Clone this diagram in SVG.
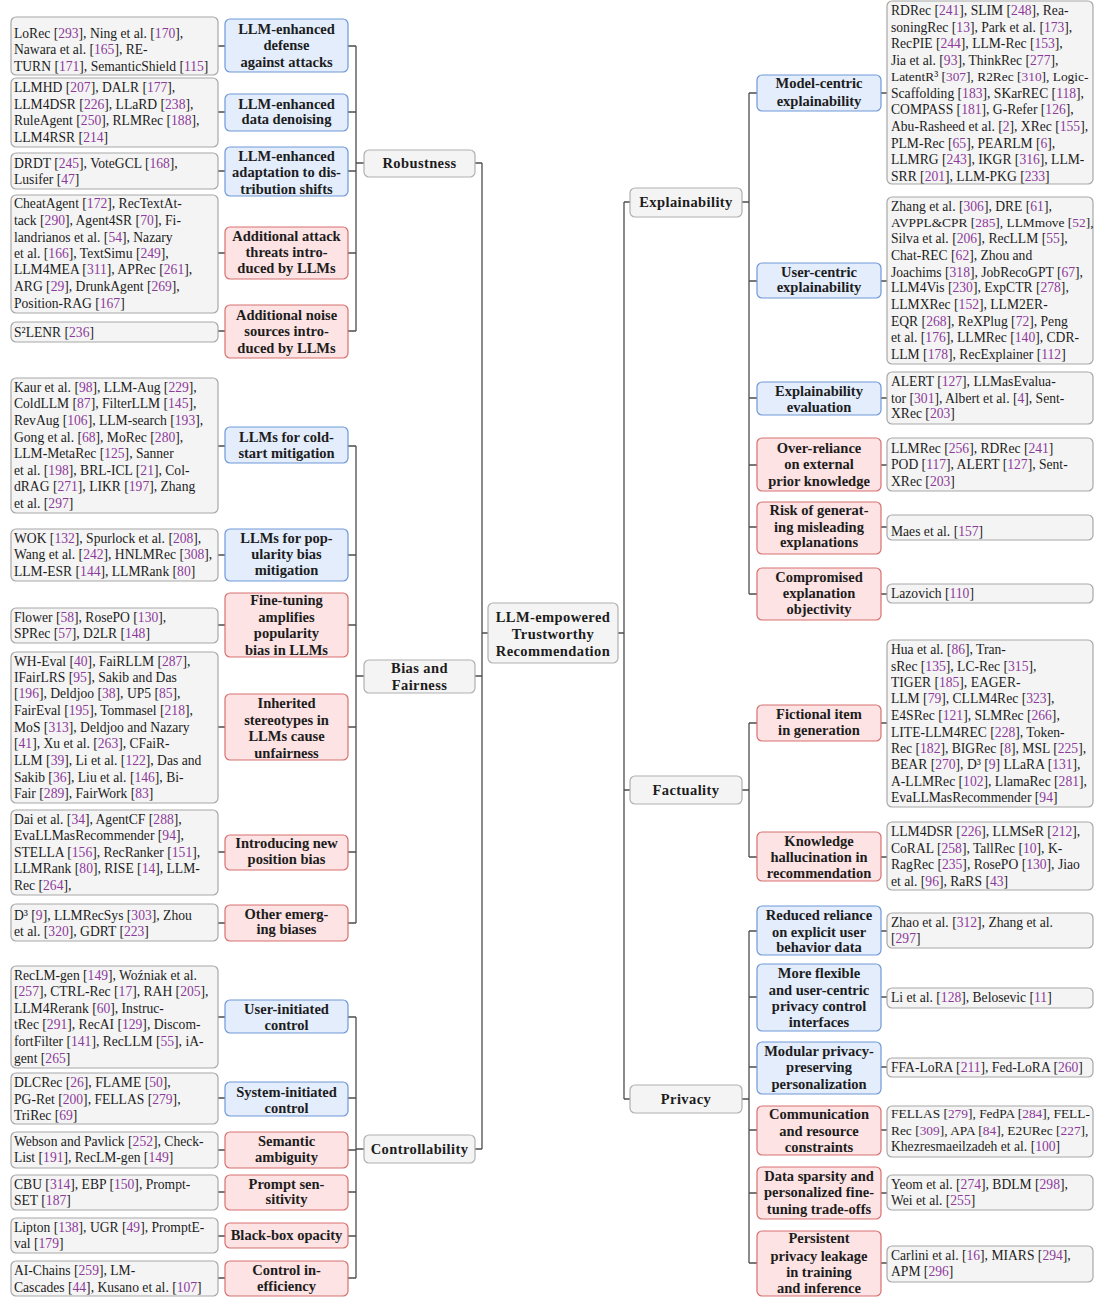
<svg xmlns="http://www.w3.org/2000/svg" width="1094" height="1297" viewBox="0 0 1094 1297">
<style>
.leaf rect{fill:#f4f4f4;stroke:#a8a8a8;stroke-width:1.2}
.blue rect{fill:#e3edfc;stroke:#7098d8;stroke-width:1.2}
.red rect{fill:#fde3e3;stroke:#d87070;stroke-width:1.2}
.top rect{fill:#f4f4f4;stroke:#b0b0b0;stroke-width:1.2}
.t{font-family:"Liberation Serif","DejaVu Serif",serif;font-size:13.6px;fill:#1c1c1c}
.s{font-size:13.4px}
.b{font-family:"Liberation Serif","DejaVu Serif",serif;font-size:14.5px;font-weight:bold;fill:#1c1c1c;text-anchor:middle}
.h{letter-spacing:0.4px}
.c{fill:#8c3a9a}
#connectors path{stroke:#4d4d4d;stroke-width:1.3;fill:none}
</style>
<rect width="1094" height="1297" fill="#ffffff"/>
<g id="connectors">
<path d="M218 46H225M348 46H356M218 112H225M348 112H356M218 171H225M348 171H356M218 253H225M348 253H356M218 331H225M348 331H356"/>
<path d="M356 46V331M356 163H364"/>
<path d="M218 446H225M348 446H356M218 555H225M348 555H356M218 625H225M348 625H356M218 727H225M348 727H356M218 852H225M348 852H356M218 923H225M348 923H356"/>
<path d="M356 446V923M356 676H364"/>
<path d="M218 1017H225M348 1017H356M218 1098H225M348 1098H356M218 1150H225M348 1150H356M218 1192H225M348 1192H356M218 1236H225M348 1236H356M218 1278H225M348 1278H356"/>
<path d="M356 1017V1278M356 1149H364"/>
<path d="M475 163H482M475 676H482M475 1149H482M482 163V1149M482 633H488"/>
<path d="M618 633H624M624 202V1099M624 202H630M624 790H630M624 1099H630"/>
<path d="M742 202H749M749 93V594M749 93H757M749 281H757M749 398H757M749 465H757M749 527H757M749 594H757"/>
<path d="M881 93H887M881 281H887M881 398H887M881 465H887M881 527H887M881 594H887"/>
<path d="M742 790H749M749 723V857M749 723H757M749 857H757M881 723H887M881 857H887"/>
<path d="M742 1099H749M749 931V1263M749 931H757M749 997H757M749 1067H757M749 1130H757M749 1193H757M749 1263H757"/>
<path d="M881 931H887M881 997H887M881 1067H887M881 1130H887M881 1193H887M881 1263H887"/>
</g>

<g id="root" class="top"><rect x="488" y="603" width="130" height="60" rx="5"/>
<text class="b h"><tspan x="553" y="622">LLM-empowered</tspan><tspan x="553" y="639">Trustworthy</tspan><tspan x="553" y="656">Recommendation</tspan></text></g>

<g id="robustness" class="top"><rect x="364" y="150" width="111" height="27" rx="5"/><text class="b h" x="419.5" y="168">Robustness</text></g>
<g id="bias" class="top"><rect x="364" y="660" width="111" height="33" rx="5"/><text class="b h"><tspan x="419.5" y="673">Bias and</tspan><tspan x="419.5" y="690">Fairness</tspan></text></g>
<g id="controllability" class="top"><rect x="364" y="1135" width="111" height="28" rx="5"/><text class="b h" x="419.5" y="1154">Controllability</text></g>
<g id="explainability" class="top"><rect x="630" y="188" width="112" height="29" rx="5"/><text class="b h" x="686" y="207">Explainability</text></g>
<g id="factuality" class="top"><rect x="630" y="776" width="112" height="28" rx="5"/><text class="b h" x="686" y="795">Factuality</text></g>
<g id="privacy" class="top"><rect x="630" y="1085" width="112" height="28" rx="5"/><text class="b h" x="686" y="1104">Privacy</text></g>

<g id="cat-defense" class="blue"><rect x="225" y="19" width="123" height="53" rx="5"/><text class="b"><tspan x="286.5" y="34">LLM-enhanced</tspan><tspan x="286.5" y="50">defense</tspan><tspan x="286.5" y="67">against attacks</tspan></text></g>
<g id="cat-denoise" class="blue"><rect x="225" y="94" width="123" height="37" rx="5"/><text class="b"><tspan x="286.5" y="109">LLM-enhanced</tspan><tspan x="286.5" y="124">data denoising</tspan></text></g>
<g id="cat-shift" class="blue"><rect x="225" y="147" width="123" height="49" rx="5"/><text class="b"><tspan x="286.5" y="161">LLM-enhanced</tspan><tspan x="286.5" y="177">adaptation to dis-</tspan><tspan x="286.5" y="194">tribution shifts</tspan></text></g>
<g id="cat-attack" class="red"><rect x="225" y="227" width="123" height="52" rx="5"/><text class="b"><tspan x="286.5" y="241">Additional attack</tspan><tspan x="286.5" y="257">threats intro-</tspan><tspan x="286.5" y="273">duced by LLMs</tspan></text></g>
<g id="cat-noise" class="red"><rect x="225" y="305" width="123" height="53" rx="5"/><text class="b"><tspan x="286.5" y="320">Additional noise</tspan><tspan x="286.5" y="336">sources intro-</tspan><tspan x="286.5" y="353">duced by LLMs</tspan></text></g>
<g id="cat-cold" class="blue"><rect x="225" y="427" width="123" height="36" rx="5"/><text class="b"><tspan x="286.5" y="442">LLMs for cold-</tspan><tspan x="286.5" y="458">start mitigation</tspan></text></g>
<g id="cat-pop" class="blue"><rect x="225" y="529" width="123" height="52" rx="5"/><text class="b"><tspan x="286.5" y="543">LLMs for pop-</tspan><tspan x="286.5" y="559">ularity bias</tspan><tspan x="286.5" y="575">mitigation</tspan></text></g>
<g id="cat-finetune" class="red"><rect x="225" y="593" width="123" height="64" rx="5"/><text class="b"><tspan x="286.5" y="605">Fine-tuning</tspan><tspan x="286.5" y="622">amplifies</tspan><tspan x="286.5" y="638">popularity</tspan><tspan x="286.5" y="655">bias in LLMs</tspan></text></g>
<g id="cat-stereo" class="red"><rect x="225" y="694" width="123" height="66" rx="5"/><text class="b"><tspan x="286.5" y="708">Inherited</tspan><tspan x="286.5" y="725">stereotypes in</tspan><tspan x="286.5" y="741">LLMs cause</tspan><tspan x="286.5" y="758">unfairness</tspan></text></g>
<g id="cat-position" class="red"><rect x="225" y="835" width="123" height="35" rx="5"/><text class="b"><tspan x="286.5" y="848">Introducing new</tspan><tspan x="286.5" y="864">position bias</tspan></text></g>
<g id="cat-other" class="red"><rect x="225" y="905" width="123" height="36" rx="5"/><text class="b"><tspan x="286.5" y="919">Other emerg-</tspan><tspan x="286.5" y="934">ing biases</tspan></text></g>
<g id="cat-user" class="blue"><rect x="225" y="1000" width="123" height="33" rx="5"/><text class="b"><tspan x="286.5" y="1014">User-initiated</tspan><tspan x="286.5" y="1030">control</tspan></text></g>
<g id="cat-system" class="blue"><rect x="225" y="1082" width="123" height="34" rx="5"/><text class="b"><tspan x="286.5" y="1097">System-initiated</tspan><tspan x="286.5" y="1113">control</tspan></text></g>
<g id="cat-semantic" class="red"><rect x="225" y="1132" width="123" height="36" rx="5"/><text class="b"><tspan x="286.5" y="1146">Semantic</tspan><tspan x="286.5" y="1162">ambiguity</tspan></text></g>
<g id="cat-prompt" class="red"><rect x="225" y="1175" width="123" height="35" rx="5"/><text class="b"><tspan x="286.5" y="1189">Prompt sen-</tspan><tspan x="286.5" y="1204">sitivity</tspan></text></g>
<g id="cat-blackbox" class="red"><rect x="225" y="1223" width="123" height="25" rx="5"/><text class="b" x="286.5" y="1240">Black-box opacity</text></g>
<g id="cat-ineff" class="red"><rect x="225" y="1261" width="123" height="35" rx="5"/><text class="b"><tspan x="286.5" y="1275">Control in-</tspan><tspan x="286.5" y="1291">efficiency</tspan></text></g>

<g id="leaf-defense" class="leaf"><rect x="11" y="17" width="207" height="58" rx="5"/><text class="t"><tspan x="14" y="38">LoRec [<tspan class="c">293</tspan>], Ning et al. [<tspan class="c">170</tspan>],</tspan><tspan x="14" y="54">Nawara et al. [<tspan class="c">165</tspan>], RE-</tspan><tspan x="14" y="71">TURN [<tspan class="c">171</tspan>], SemanticShield [<tspan class="c">115</tspan>]</tspan></text></g>
<g id="leaf-denoise" class="leaf"><rect x="11" y="78" width="207" height="69" rx="5"/><text class="t"><tspan x="14" y="92">LLMHD [<tspan class="c">207</tspan>], DALR [<tspan class="c">177</tspan>],</tspan><tspan x="14" y="109">LLM4DSR [<tspan class="c">226</tspan>], LLaRD [<tspan class="c">238</tspan>],</tspan><tspan x="14" y="125">RuleAgent [<tspan class="c">250</tspan>], RLMRec [<tspan class="c">188</tspan>],</tspan><tspan x="14" y="142">LLM4RSR [<tspan class="c">214</tspan>]</tspan></text></g>
<g id="leaf-shift" class="leaf"><rect x="11" y="153" width="207" height="36" rx="5"/><text class="t"><tspan x="14" y="168">DRDT [<tspan class="c">245</tspan>], VoteGCL [<tspan class="c">168</tspan>],</tspan><tspan x="14" y="184">Lusifer [<tspan class="c">47</tspan>]</tspan></text></g>
<g id="leaf-attack" class="leaf"><rect x="11" y="195" width="207" height="118" rx="5"/><text class="t"><tspan x="14" y="208">CheatAgent [<tspan class="c">172</tspan>], RecTextAt-</tspan><tspan x="14" y="225">tack [<tspan class="c">290</tspan>], Agent4SR [<tspan class="c">70</tspan>], Fi-</tspan><tspan x="14" y="242">landrianos et al. [<tspan class="c">54</tspan>], Nazary</tspan><tspan x="14" y="258">et al. [<tspan class="c">166</tspan>], TextSimu [<tspan class="c">249</tspan>],</tspan><tspan x="14" y="274">LLM4MEA [<tspan class="c">311</tspan>], APRec [<tspan class="c">261</tspan>],</tspan><tspan x="14" y="291">ARG [<tspan class="c">29</tspan>], DrunkAgent [<tspan class="c">269</tspan>],</tspan><tspan x="14" y="308">Position-RAG [<tspan class="c">167</tspan>]</tspan></text></g>
<g id="leaf-noise" class="leaf"><rect x="11" y="322" width="207" height="20" rx="5"/><text class="t" x="14" y="337">S²LENR [<tspan class="c">236</tspan>]</text></g>
<g id="leaf-cold" class="leaf"><rect x="11" y="378" width="207" height="135" rx="5"/><text class="t"><tspan x="14" y="392">Kaur et al. [<tspan class="c">98</tspan>], LLM-Aug [<tspan class="c">229</tspan>],</tspan><tspan x="14" y="408">ColdLLM [<tspan class="c">87</tspan>], FilterLLM [<tspan class="c">145</tspan>],</tspan><tspan x="14" y="425">RevAug [<tspan class="c">106</tspan>], LLM-search [<tspan class="c">193</tspan>],</tspan><tspan x="14" y="442">Gong et al. [<tspan class="c">68</tspan>], MoRec [<tspan class="c">280</tspan>],</tspan><tspan x="14" y="458">LLM-MetaRec [<tspan class="c">125</tspan>], Sanner</tspan><tspan x="14" y="475">et al. [<tspan class="c">198</tspan>], BRL-ICL [<tspan class="c">21</tspan>], Col-</tspan><tspan x="14" y="491">dRAG [<tspan class="c">271</tspan>], LIKR [<tspan class="c">197</tspan>], Zhang</tspan><tspan x="14" y="508">et al. [<tspan class="c">297</tspan>]</tspan></text></g>
<g id="leaf-pop" class="leaf"><rect x="11" y="529" width="207" height="52" rx="5"/><text class="t"><tspan x="14" y="543">WOK [<tspan class="c">132</tspan>], Spurlock et al. [<tspan class="c">208</tspan>],</tspan><tspan x="14" y="559">Wang et al. [<tspan class="c">242</tspan>], HNLMRec [<tspan class="c">308</tspan>],</tspan><tspan x="14" y="576">LLM-ESR [<tspan class="c">144</tspan>], LLMRank [<tspan class="c">80</tspan>]</tspan></text></g>
<g id="leaf-finetune" class="leaf"><rect x="11" y="608" width="207" height="35" rx="5"/><text class="t"><tspan x="14" y="622">Flower [<tspan class="c">58</tspan>], RosePO [<tspan class="c">130</tspan>],</tspan><tspan x="14" y="638">SPRec [<tspan class="c">57</tspan>], D2LR [<tspan class="c">148</tspan>]</tspan></text></g>
<g id="leaf-stereo" class="leaf"><rect x="11" y="652" width="207" height="151" rx="5"/><text class="t"><tspan x="14" y="666">WH-Eval [<tspan class="c">40</tspan>], FaiRLLM [<tspan class="c">287</tspan>],</tspan><tspan x="14" y="682">IFairLRS [<tspan class="c">95</tspan>], Sakib and Das</tspan><tspan x="14" y="698">[<tspan class="c">196</tspan>], Deldjoo [<tspan class="c">38</tspan>], UP5 [<tspan class="c">85</tspan>],</tspan><tspan x="14" y="715">FairEval [<tspan class="c">195</tspan>], Tommasel [<tspan class="c">218</tspan>],</tspan><tspan x="14" y="732">MoS [<tspan class="c">313</tspan>], Deldjoo and Nazary</tspan><tspan x="14" y="748">[<tspan class="c">41</tspan>], Xu et al. [<tspan class="c">263</tspan>], CFaiR-</tspan><tspan x="14" y="765">LLM [<tspan class="c">39</tspan>], Li et al. [<tspan class="c">122</tspan>], Das and</tspan><tspan x="14" y="782">Sakib [<tspan class="c">36</tspan>], Liu et al. [<tspan class="c">146</tspan>], Bi-</tspan><tspan x="14" y="798">Fair [<tspan class="c">289</tspan>], FairWork [<tspan class="c">83</tspan>]</tspan></text></g>
<g id="leaf-position" class="leaf"><rect x="11" y="810" width="207" height="85" rx="5"/><text class="t"><tspan x="14" y="824">Dai et al. [<tspan class="c">34</tspan>], AgentCF [<tspan class="c">288</tspan>],</tspan><tspan x="14" y="840">EvaLLMasRecommender [<tspan class="c">94</tspan>],</tspan><tspan x="14" y="857">STELLA [<tspan class="c">156</tspan>], RecRanker [<tspan class="c">151</tspan>],</tspan><tspan x="14" y="873">LLMRank [<tspan class="c">80</tspan>], RISE [<tspan class="c">14</tspan>], LLM-</tspan><tspan x="14" y="890">Rec [<tspan class="c">264</tspan>],</tspan></text></g>
<g id="leaf-other" class="leaf"><rect x="11" y="904" width="207" height="37" rx="5"/><text class="t"><tspan x="14" y="920">D³ [<tspan class="c">9</tspan>], LLMRecSys [<tspan class="c">303</tspan>], Zhou</tspan><tspan x="14" y="936">et al. [<tspan class="c">320</tspan>], GDRT [<tspan class="c">223</tspan>]</tspan></text></g>
<g id="leaf-user" class="leaf"><rect x="11" y="966" width="207" height="102" rx="5"/><text class="t"><tspan x="14" y="980">RecLM-gen [<tspan class="c">149</tspan>], Woźniak et al.</tspan><tspan x="14" y="996">[<tspan class="c">257</tspan>], CTRL-Rec [<tspan class="c">17</tspan>], RAH [<tspan class="c">205</tspan>],</tspan><tspan x="14" y="1013">LLM4Rerank [<tspan class="c">60</tspan>], Instruc-</tspan><tspan x="14" y="1029">tRec [<tspan class="c">291</tspan>], RecAI [<tspan class="c">129</tspan>], Discom-</tspan><tspan x="14" y="1046">fortFilter [<tspan class="c">141</tspan>], RecLLM [<tspan class="c">55</tspan>], iA-</tspan><tspan x="14" y="1063">gent [<tspan class="c">265</tspan>]</tspan></text></g>
<g id="leaf-system" class="leaf"><rect x="11" y="1073" width="207" height="51" rx="5"/><text class="t"><tspan x="14" y="1087">DLCRec [<tspan class="c">26</tspan>], FLAME [<tspan class="c">50</tspan>],</tspan><tspan x="14" y="1104">PG-Ret [<tspan class="c">200</tspan>], FELLAS [<tspan class="c">279</tspan>],</tspan><tspan x="14" y="1120">TriRec [<tspan class="c">69</tspan>]</tspan></text></g>
<g id="leaf-semantic" class="leaf"><rect x="11" y="1132" width="207" height="36" rx="5"/><text class="t"><tspan x="14" y="1146">Webson and Pavlick [<tspan class="c">252</tspan>], Check-</tspan><tspan x="14" y="1162">List [<tspan class="c">191</tspan>], RecLM-gen [<tspan class="c">149</tspan>]</tspan></text></g>
<g id="leaf-prompt" class="leaf"><rect x="11" y="1175" width="207" height="35" rx="5"/><text class="t"><tspan x="14" y="1189">CBU [<tspan class="c">314</tspan>], EBP [<tspan class="c">150</tspan>], Prompt-</tspan><tspan x="14" y="1205">SET [<tspan class="c">187</tspan>]</tspan></text></g>
<g id="leaf-blackbox" class="leaf"><rect x="11" y="1218" width="207" height="35" rx="5"/><text class="t"><tspan x="14" y="1232">Lipton [<tspan class="c">138</tspan>], UGR [<tspan class="c">49</tspan>], PromptE-</tspan><tspan x="14" y="1248">val [<tspan class="c">179</tspan>]</tspan></text></g>
<g id="leaf-ineff" class="leaf"><rect x="11" y="1261" width="207" height="35" rx="5"/><text class="t"><tspan x="14" y="1275">AI-Chains [<tspan class="c">259</tspan>], LM-</tspan><tspan x="14" y="1292">Cascades [<tspan class="c">44</tspan>], Kusano et al. [<tspan class="c">107</tspan>]</tspan></text></g>

<g id="cat-model" class="blue"><rect x="757" y="75" width="124" height="36" rx="5"/><text class="b"><tspan x="819" y="88">Model-centric</tspan><tspan x="819" y="106">explainability</tspan></text></g>
<g id="cat-usercentric" class="blue"><rect x="757" y="263" width="124" height="35" rx="5"/><text class="b"><tspan x="819" y="277">User-centric</tspan><tspan x="819" y="292">explainability</tspan></text></g>
<g id="cat-expeval" class="blue"><rect x="757" y="382" width="124" height="33" rx="5"/><text class="b"><tspan x="819" y="396">Explainability</tspan><tspan x="819" y="412">evaluation</tspan></text></g>
<g id="cat-overreliance" class="red"><rect x="757" y="438" width="124" height="53" rx="5"/><text class="b"><tspan x="819" y="453">Over-reliance</tspan><tspan x="819" y="469">on external</tspan><tspan x="819" y="486">prior knowledge</tspan></text></g>
<g id="cat-misleading" class="red"><rect x="757" y="502" width="124" height="52" rx="5"/><text class="b"><tspan x="819" y="515">Risk of generat-</tspan><tspan x="819" y="532">ing misleading</tspan><tspan x="819" y="547">explanations</tspan></text></g>
<g id="cat-compromised" class="red"><rect x="757" y="568" width="124" height="52" rx="5"/><text class="b"><tspan x="819" y="582">Compromised</tspan><tspan x="819" y="598">explanation</tspan><tspan x="819" y="614">objectivity</tspan></text></g>
<g id="cat-fictional" class="red"><rect x="757" y="705" width="124" height="36" rx="5"/><text class="b"><tspan x="819" y="719">Fictional item</tspan><tspan x="819" y="735">in generation</tspan></text></g>
<g id="cat-hallucination" class="red"><rect x="757" y="832" width="124" height="49" rx="5"/><text class="b"><tspan x="819" y="846">Knowledge</tspan><tspan x="819" y="862">hallucination in</tspan><tspan x="819" y="878">recommendation</tspan></text></g>
<g id="cat-reduced" class="blue"><rect x="757" y="906" width="124" height="49" rx="5"/><text class="b"><tspan x="819" y="920">Reduced reliance</tspan><tspan x="819" y="937">on explicit user</tspan><tspan x="819" y="952">behavior data</tspan></text></g>
<g id="cat-flexible" class="blue"><rect x="757" y="964" width="124" height="67" rx="5"/><text class="b"><tspan x="819" y="978">More flexible</tspan><tspan x="819" y="995">and user-centric</tspan><tspan x="819" y="1011">privacy control</tspan><tspan x="819" y="1027">interfaces</tspan></text></g>
<g id="cat-modular" class="blue"><rect x="757" y="1042" width="124" height="52" rx="5"/><text class="b"><tspan x="819" y="1056">Modular privacy-</tspan><tspan x="819" y="1072">preserving</tspan><tspan x="819" y="1089">personalization</tspan></text></g>
<g id="cat-communication" class="red"><rect x="757" y="1106" width="124" height="49" rx="5"/><text class="b"><tspan x="819" y="1119">Communication</tspan><tspan x="819" y="1136">and resource</tspan><tspan x="819" y="1152">constraints</tspan></text></g>
<g id="cat-sparsity" class="red"><rect x="757" y="1167" width="124" height="52" rx="5"/><text class="b"><tspan x="819" y="1181">Data sparsity and</tspan><tspan x="819" y="1197">personalized fine-</tspan><tspan x="819" y="1214">tuning trade-offs</tspan></text></g>
<g id="cat-leakage" class="red"><rect x="757" y="1231" width="124" height="65" rx="5"/><text class="b"><tspan x="819" y="1243">Persistent</tspan><tspan x="819" y="1261">privacy leakage</tspan><tspan x="819" y="1277">in training</tspan><tspan x="819" y="1293">and inference</tspan></text></g>

<g id="leaf-model" class="leaf"><rect x="887" y="1" width="206" height="183" rx="5"/><text class="t"><tspan x="891" y="15">RDRec [<tspan class="c">241</tspan>], SLIM [<tspan class="c">248</tspan>], Rea-</tspan><tspan x="891" y="32">soningRec [<tspan class="c">13</tspan>], Park et al. [<tspan class="c">173</tspan>],</tspan><tspan x="891" y="48">RecPIE [<tspan class="c">244</tspan>], LLM-Rec [<tspan class="c">153</tspan>],</tspan><tspan x="891" y="65">Jia et al. [<tspan class="c">93</tspan>], ThinkRec [<tspan class="c">277</tspan>],</tspan><tspan x="891" y="81" class="s">LatentR³ [<tspan class="c">307</tspan>], R2Rec [<tspan class="c">310</tspan>], Logic-</tspan><tspan x="891" y="98">Scaffolding [<tspan class="c">183</tspan>], SKarREC [<tspan class="c">118</tspan>],</tspan><tspan x="891" y="114">COMPASS [<tspan class="c">181</tspan>], G-Refer [<tspan class="c">126</tspan>],</tspan><tspan x="891" y="131">Abu-Rasheed et al. [<tspan class="c">2</tspan>], XRec [<tspan class="c">155</tspan>],</tspan><tspan x="891" y="148">PLM-Rec [<tspan class="c">65</tspan>], PEARLM [<tspan class="c">6</tspan>],</tspan><tspan x="891" y="164">LLMRG [<tspan class="c">243</tspan>], IKGR [<tspan class="c">316</tspan>], LLM-</tspan><tspan x="891" y="181">SRR [<tspan class="c">201</tspan>], LLM-PKG [<tspan class="c">233</tspan>]</tspan></text></g>
<g id="leaf-usercentric" class="leaf"><rect x="887" y="197" width="206" height="167" rx="5"/><text class="t"><tspan x="891" y="211">Zhang et al. [<tspan class="c">306</tspan>], DRE [<tspan class="c">61</tspan>],</tspan><tspan x="891" y="227" class="s">AVPPL&amp;CPR [<tspan class="c">285</tspan>], LLMmove [<tspan class="c">52</tspan>],</tspan><tspan x="891" y="243">Silva et al. [<tspan class="c">206</tspan>], RecLLM [<tspan class="c">55</tspan>],</tspan><tspan x="891" y="260">Chat-REC [<tspan class="c">62</tspan>], Zhou and</tspan><tspan x="891" y="277">Joachims [<tspan class="c">318</tspan>], JobRecoGPT [<tspan class="c">67</tspan>],</tspan><tspan x="891" y="292">LLM4Vis [<tspan class="c">230</tspan>], ExpCTR [<tspan class="c">278</tspan>],</tspan><tspan x="891" y="309">LLMXRec [<tspan class="c">152</tspan>], LLM2ER-</tspan><tspan x="891" y="326">EQR [<tspan class="c">268</tspan>], ReXPlug [<tspan class="c">72</tspan>], Peng</tspan><tspan x="891" y="342">et al. [<tspan class="c">176</tspan>], LLMRec [<tspan class="c">140</tspan>], CDR-</tspan><tspan x="891" y="359">LLM [<tspan class="c">178</tspan>], RecExplainer [<tspan class="c">112</tspan>]</tspan></text></g>
<g id="leaf-expeval" class="leaf"><rect x="887" y="372" width="206" height="52" rx="5"/><text class="t"><tspan x="891" y="386">ALERT [<tspan class="c">127</tspan>], LLMasEvalua-</tspan><tspan x="891" y="403">tor [<tspan class="c">301</tspan>], Albert et al. [<tspan class="c">4</tspan>], Sent-</tspan><tspan x="891" y="418">XRec [<tspan class="c">203</tspan>]</tspan></text></g>
<g id="leaf-overreliance" class="leaf"><rect x="887" y="438" width="206" height="53" rx="5"/><text class="t"><tspan x="891" y="453">LLMRec [<tspan class="c">256</tspan>], RDRec [<tspan class="c">241</tspan>]</tspan><tspan x="891" y="469">POD [<tspan class="c">117</tspan>], ALERT [<tspan class="c">127</tspan>], Sent-</tspan><tspan x="891" y="486">XRec [<tspan class="c">203</tspan>]</tspan></text></g>
<g id="leaf-misleading" class="leaf"><rect x="887" y="515" width="206" height="25" rx="5"/><text class="t" x="891" y="536">Maes et al. [<tspan class="c">157</tspan>]</text></g>
<g id="leaf-compromised" class="leaf"><rect x="887" y="584" width="206" height="19" rx="5"/><text class="t" x="891" y="598">Lazovich [<tspan class="c">110</tspan>]</text></g>
<g id="leaf-fictional" class="leaf"><rect x="887" y="640" width="206" height="167" rx="5"/><text class="t"><tspan x="891" y="654">Hua et al. [<tspan class="c">86</tspan>], Tran-</tspan><tspan x="891" y="671">sRec [<tspan class="c">135</tspan>], LC-Rec [<tspan class="c">315</tspan>],</tspan><tspan x="891" y="687">TIGER [<tspan class="c">185</tspan>], EAGER-</tspan><tspan x="891" y="703">LLM [<tspan class="c">79</tspan>], CLLM4Rec [<tspan class="c">323</tspan>],</tspan><tspan x="891" y="720">E4SRec [<tspan class="c">121</tspan>], SLMRec [<tspan class="c">266</tspan>],</tspan><tspan x="891" y="737">LITE-LLM4REC [<tspan class="c">228</tspan>], Token-</tspan><tspan x="891" y="753">Rec [<tspan class="c">182</tspan>], BIGRec [<tspan class="c">8</tspan>], MSL [<tspan class="c">225</tspan>],</tspan><tspan x="891" y="769">BEAR [<tspan class="c">270</tspan>], D³ [<tspan class="c">9</tspan>] LLaRA [<tspan class="c">131</tspan>],</tspan><tspan x="891" y="786">A-LLMRec [<tspan class="c">102</tspan>], LlamaRec [<tspan class="c">281</tspan>],</tspan><tspan x="891" y="802">EvaLLMasRecommender [<tspan class="c">94</tspan>]</tspan></text></g>
<g id="leaf-hallucination" class="leaf"><rect x="887" y="822" width="206" height="68" rx="5"/><text class="t"><tspan x="891" y="836">LLM4DSR [<tspan class="c">226</tspan>], LLMSeR [<tspan class="c">212</tspan>],</tspan><tspan x="891" y="853">CoRAL [<tspan class="c">258</tspan>], TallRec [<tspan class="c">10</tspan>], K-</tspan><tspan x="891" y="869">RagRec [<tspan class="c">235</tspan>], RosePO [<tspan class="c">130</tspan>], Jiao</tspan><tspan x="891" y="886">et al. [<tspan class="c">96</tspan>], RaRS [<tspan class="c">43</tspan>]</tspan></text></g>
<g id="leaf-reduced" class="leaf"><rect x="887" y="913" width="206" height="35" rx="5"/><text class="t"><tspan x="891" y="927">Zhao et al. [<tspan class="c">312</tspan>], Zhang et al.</tspan><tspan x="891" y="943">[<tspan class="c">297</tspan>]</tspan></text></g>
<g id="leaf-flexible" class="leaf"><rect x="887" y="988" width="206" height="20" rx="5"/><text class="t" x="891" y="1002">Li et al. [<tspan class="c">128</tspan>], Belosevic [<tspan class="c">11</tspan>]</text></g>
<g id="leaf-modular" class="leaf"><rect x="887" y="1058" width="206" height="19" rx="5"/><text class="t" x="891" y="1072">FFA-LoRA [<tspan class="c">211</tspan>], Fed-LoRA [<tspan class="c">260</tspan>]</text></g>
<g id="leaf-communication" class="leaf"><rect x="887" y="1106" width="206" height="51" rx="5"/><text class="t"><tspan x="891" y="1118" class="s">FELLAS [<tspan class="c">279</tspan>], FedPA [<tspan class="c">284</tspan>], FELL-</tspan><tspan x="891" y="1135" class="s">Rec [<tspan class="c">309</tspan>], APA [<tspan class="c">84</tspan>], E2URec [<tspan class="c">227</tspan>],</tspan><tspan x="891" y="1151">Khezresmaeilzadeh et al. [<tspan class="c">100</tspan>]</tspan></text></g>
<g id="leaf-sparsity" class="leaf"><rect x="887" y="1175" width="206" height="35" rx="5"/><text class="t"><tspan x="891" y="1189">Yeom et al. [<tspan class="c">274</tspan>], BDLM [<tspan class="c">298</tspan>],</tspan><tspan x="891" y="1205">Wei et al. [<tspan class="c">255</tspan>]</tspan></text></g>
<g id="leaf-leakage" class="leaf"><rect x="887" y="1246" width="206" height="36" rx="5"/><text class="t"><tspan x="891" y="1260">Carlini et al. [<tspan class="c">16</tspan>], MIARS [<tspan class="c">294</tspan>],</tspan><tspan x="891" y="1276">APM [<tspan class="c">296</tspan>]</tspan></text></g>
</svg>
